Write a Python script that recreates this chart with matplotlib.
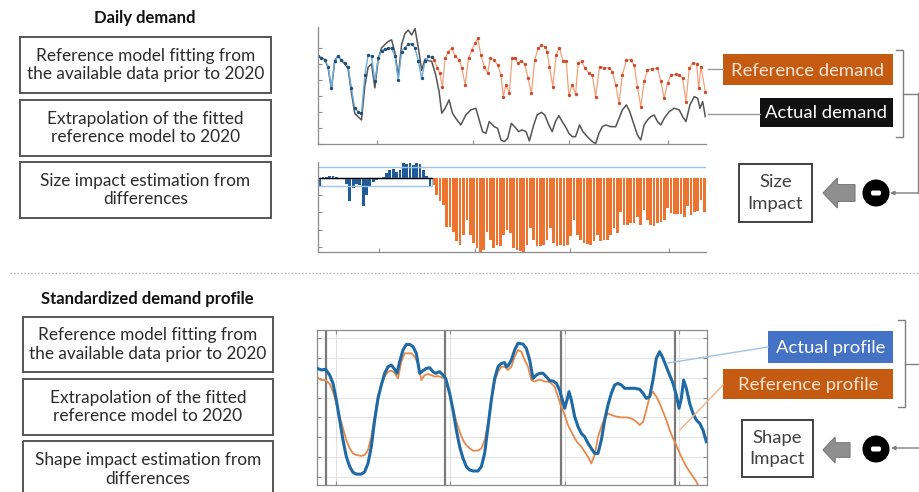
import matplotlib
matplotlib.use("Agg")
import matplotlib.pyplot as plt
from matplotlib.patches import Rectangle, Circle, Polygon, FancyBboxPatch

plt.rcParams['font.family'] = ['Lato', 'DejaVu Sans']

W, H = 920, 492

# ---- daily demand (arbitrary units, x = day index) ----
fit_days = list(range(35))
fit_vals = [5.52, 5.35, 5.27, 4.83, 3.48, 5.15, 5.46, 5.25, 5.08, 4.83, 3.48, 2.23,
            2.02, 1.92, 4.31, 5.56, 5.48, 3.90, 5.35, 5.81, 5.94, 5.98, 5.98, 5.46,
            4.00, 5.77, 6.02, 6.23, 6.27, 5.98, 5.15, 4.10, 5.15, 5.46, 5.40]

actual_days = [0, 1, 2, 3, 4, 5, 6, 7, 8, 9, 10, 11, 12, 13, 14, 15, 16, 17, 18, 19,
               20, 21, 22, 23, 24, 25, 26, 27, 28, 29, 30, 31, 32, 33, 34, 35.2, 36.2,
               37, 38, 39.2, 40.2, 41.2, 42.7, 44.2, 45.7, 47.2, 48.2, 49.2, 50.2, 51.2,
               52.7, 53.7, 54.7, 55.7, 56.7, 57.8, 58.8, 60, 61, 62.2, 63.2, 64.5, 65.5,
               66.8, 67.8, 69, 70, 71, 72, 73, 74, 75, 76, 77, 78.2, 79.2, 80.5, 82, 83,
               84, 85, 86, 87.5, 89, 90, 91, 92.2, 93.2, 94.5, 95.5, 96.5, 97.5, 98.5,
               99.5, 100.5, 101.5, 102.5, 103.5, 105, 106.5, 108, 109, 110, 111.2, 112.5,
               113.5, 114.2, 115, 115.8]
actual_vals = [5.45, 5.4, 5.25, 4.8, 3.4, 5.2, 5.5, 5.2, 5.0, 4.7, 3.2, 1.9, 1.7, 1.5,
               3.6, 4.8, 5.0, 3.5, 5.3, 6.0, 6.2, 6.4, 6.5, 5.7, 4.2, 6.2, 6.9, 7.1, 6.8,
               7.2, 6.0, 4.6, 5.3, 5.2, 5.15, 4.3, 3.27, 1.92, 2.23, 2.75, 1.92, 1.6, 1.19,
               1.81, 2.13, 2.23, 1.5, 0.77, 0.67, 1.4, 1.08, 0.98, 0.25, 0.15, 0.35, 1.29,
               1.08, 0.77, 0.88, 0.77, 0.19, 1.19, 1.81, 1.98, 1.81, 1.19, 0.77, 1.4, 1.77,
               1.4, 1.08, 0.67, 0.46, 0.46, 1.19, 0.77, 0.46, 0.15, 0.02, 0.67, 1.08, 1.19,
               1.08, 1.08, 1.6, 2.13, 2.44, 2.02, 1.19, 0.56, 0.25, 1.19, 1.5, 1.71, 1.81,
               1.4, 1.19, 1.6, 2.02, 2.23, 2.13, 1.71, 1.4, 2.44, 2.96, 2.85, 2.23, 2.65,
               1.71]

ref_days = [34, 34.7, 35.7, 36.4, 37.2, 38, 39, 40, 41, 42.2, 43, 44, 45, 46, 47, 47.7,
            48.7, 49.7, 50.7, 51.5, 52.7, 53.7, 54.7, 55.4, 56.2, 57.2, 58, 59, 59.8,
            60.8, 61.8, 62.8, 63.8, 64.8, 65.8, 66.8, 67.8, 68.5, 69.2, 70.2, 71.2, 72.2,
            73.2, 74.2, 75, 76, 77, 77.8, 78.8, 79.8, 81, 82, 83, 84.2, 85.5, 87, 88, 89,
            90, 91, 92.2, 93.5, 94.5, 95.5, 96.5, 97.5, 98.5, 100, 101.5, 102.5, 103.5,
            104.5, 105.5, 107, 108, 109, 110, 111, 112, 113.2, 113.8, 114.5, 115.8]
ref_vals = [5.40, 5.25, 4.73, 4.42, 3.58, 5.35, 5.77, 5.98, 5.46, 5.25, 4.73, 3.69, 5.35,
            5.88, 6.29, 6.60, 5.56, 4.83, 4.42, 5.35, 5.25, 4.94, 4.31, 2.96, 3.69, 3.17,
            5.35, 5.35, 5.04, 5.19, 4.98, 4.10, 3.17, 5.25, 5.98, 6.15, 6.08, 5.77, 4.83,
            3.58, 5.56, 6.02, 5.19, 5.15, 3.06, 3.69, 3.10, 5.04, 5.15, 4.73, 4.42, 4.31,
            2.96, 4.83, 4.77, 4.73, 4.52, 3.69, 2.54, 4.31, 5.25, 5.25, 4.94, 3.58, 2.33,
            3.90, 4.63, 4.69, 4.73, 3.90, 2.85, 3.81, 4.31, 4.35, 4.31, 4.10, 2.65, 4.73,
            5.04, 5.00, 3.48, 4.83, 3.27]

# differences actual - reference, one bar per day
diff_pre = [-0.46, 0.02, 0.05, 0.1, 0.08, 0.03, 0.0, 0.0, -0.38, -1.35, -0.62, -0.38,
            -0.42, -1.62, -1.0, -0.52, -0.23, -0.13, -0.05, 0.05, 0.25, 0.44, 0.5, 0.35,
            0.44, 0.83, 0.77, 0.83, 0.73, 0.83, 0.77, 0.44, 0.1, -0.46]
diff_post = [-0.42, -1.0, -1.38, -1.58, -2.83, -2.83, -3.12, -3.69, -3.88, -3.31, -2.44,
             -3.31, -3.79, -4.08, -4.37, -4.17, -3.12, -3.6, -4.08, -3.88, -3.98, -3.31,
             -3.02, -3.21, -4.08, -4.17, -4.27, -4.37, -3.88, -2.92, -3.6, -3.98, -3.98,
             -3.88, -3.6, -2.92, -3.77, -3.96, -3.87, -3.98, -3.87, -3.4, -2.44, -3.31,
             -3.6, -3.79, -3.85, -3.88, -3.69, -3.31, -3.69, -3.6, -3.6, -3.31, -2.92,
             -3.21, -1.96, -2.73, -2.73, -2.63, -2.63, -2.25, -2.73, -1.87, -2.44, -2.73,
             -2.77, -2.63, -2.54, -2.44, -1.77, -2.06, -2.12, -2.12, -2.12, -2.25, -1.67,
             -2.15, -1.96, -1.92, -1.29, -1.96]
diff_band = -0.46      # lower edge of the pre-2020 band
diff_upper = 0.62      # upper reference line

month_ticks = [17.7, 46.4, 74.9, 104.5]

# ---- standardized profile (x = time step, y = standardized demand) ----
prof_t = [2.2, 3.5, 4.8, 6, 7, 8, 9, 10, 11, 12, 13, 14, 15.5, 16.5, 17.5, 18.5, 19.5,
          20.5, 21.5, 22.5, 23.5, 24.5, 25.5, 26.2, 27, 28, 29, 30, 31, 32, 33, 34, 35,
          36, 37, 37.8, 39, 40, 40.8, 42, 43, 44, 45, 46, 47, 48, 49, 50.5, 51.5, 52.5,
          53.5, 54.5, 55.5, 56.5, 57.5, 58.5, 59, 59.5, 60.5, 61.5, 62.5, 64, 65, 66, 67,
          68, 69, 70, 71, 72, 73, 74, 75, 75.8, 76.5, 77.2, 77.8, 78.5, 79.5, 80.5, 81.5,
          82.5, 83.5, 84.5, 85.5, 86.5, 87.5, 88.5, 89.5, 90.5, 91.5, 92.5, 93.5, 94.5,
          96, 97.5, 99, 100, 101, 102, 103, 104, 105, 106, 107, 108, 109, 110, 110.8,
          111.5, 112.2, 113, 114, 115, 116, 117, 118, 119]
prof_actual = [5.48, 5.40, 5.43, 5.14, 4.72, 3.88, 2.87, 1.85, 1.01, 0.51, 0.22, 0.13,
               0.13, 0.25, 0.67, 1.52, 2.87, 3.96, 4.64, 5.23, 5.56, 5.65, 5.43, 5.23,
               5.82, 6.41, 6.69, 6.69, 6.58, 6.24, 5.23, 5.36, 5.48, 5.51, 5.31, 5.23,
               5.31, 5.14, 4.97, 4.22, 3.37, 2.36, 1.52, 0.93, 0.51, 0.34, 0.29, 0.29,
               0.51, 1.18, 2.53, 3.88, 4.97, 5.56, 5.73, 5.77, 5.56, 5.60, 5.90, 6.41,
               6.75, 6.71, 6.49, 5.90, 4.97, 5.14, 5.23, 5.23, 5.06, 4.86, 4.84, 4.72,
               4.38, 3.88, 3.46, 3.88, 4.30, 3.88, 3.04, 2.53, 2.19, 2.02, 1.69, 1.43,
               1.18, 1.18, 1.85, 2.87, 3.63, 4.22, 4.64, 4.72, 4.64, 4.47, 4.47, 4.47,
               4.42, 4.22, 3.96, 4.05, 4.89, 5.99, 6.32, 5.99, 5.56, 5.14, 4.72, 4.13,
               3.46, 3.96, 4.89, 4.47, 3.71, 3.20, 2.87, 2.70, 2.36, 1.77]

ref_t = [2.2, 3.5, 4.8, 6, 7, 8, 9, 10, 11, 12, 13, 14, 15.5, 16.5, 17.5, 18.5, 19.5,
         20.5, 21.5, 22.5, 23.5, 24.5, 25.5, 26.5, 27.5, 28.5, 29.5, 30.5, 31.5, 32.5,
         33.5, 34.5, 35.5, 36.5, 37.5, 38.5, 39.5, 40.5, 42, 43, 44, 45, 46, 47, 48, 49,
         50.5, 51.5, 52.5, 53.5, 54.5, 55.5, 56.5, 57.5, 58.5, 59.5, 60.5, 61.5, 62.5,
         63.5, 64.5, 65.5, 66.5, 67.5, 68.5, 69.5, 70.5, 71.5, 72.5, 73.5, 74.5, 75.5,
         76.5, 77.5, 78.5, 79.5, 80.5, 81.5, 82.5, 83.5, 84.5, 85.5, 86.5, 87.5, 88.5,
         89.5, 90.5, 92, 93.5, 95, 96.5, 98, 99, 100, 101, 102, 103, 104, 105, 106, 107,
         108, 109, 110, 111, 112, 113, 114, 115, 116, 116.5]
prof_ref = [5.03, 4.89, 4.89, 4.69, 4.30, 3.71, 3.04, 2.45, 1.85, 1.43, 1.18, 1.10, 1.05,
            1.10, 1.35, 2.02, 3.04, 4.05, 4.64, 5.06, 5.31, 5.36, 5.26, 4.97, 5.82, 6.24,
            6.24, 6.24, 6.07, 5.73, 4.89, 5.14, 5.19, 5.14, 5.06, 5.09, 5.03, 4.97, 4.13,
            3.46, 2.78, 2.28, 1.85, 1.60, 1.43, 1.32, 1.32, 1.43, 1.85, 2.70, 3.88, 4.81,
            5.31, 5.56, 5.56, 5.40, 5.56, 6.07, 6.41, 6.32, 5.90, 5.56, 4.89, 4.81, 4.89,
            4.89, 4.81, 4.81, 4.72, 4.55, 4.05, 3.54, 3.12, 2.61, 2.28, 1.94, 1.69, 1.52,
            1.26, 1.01, 0.67, 1.10, 2.02, 2.53, 2.95, 3.20, 3.12, 3.04, 3.00, 3.00, 2.95,
            2.78, 2.61, 2.78, 3.37, 4.05, 4.30, 4.05, 3.71, 3.29, 2.87, 2.36, 1.94, 1.60,
            1.18, 0.84, 0.51, 0.25, 0.00, -0.25, -0.42]
day_breaks = [5.0, 40.5, 75.5, 109.5]
hour_grid = [8.0, 42.0, 76.5, 110.8]


def rect(x0, y0, x1, y1):
    # pixel box (top-left origin) -> figure fraction
    return [x0 / W, 1 - y1 / H, (x1 - x0) / W, (y1 - y0) / H]


fig = plt.figure(figsize=(W / 100, H / 100), dpi=100)
fig.patch.set_facecolor('white')

AX_GREY = '#8c8c8c'


def style(ax, sides=('left', 'bottom')):
    for s in ['left', 'right', 'top', 'bottom']:
        ax.spines[s].set_visible(s in sides)
        ax.spines[s].set_color(AX_GREY)
        ax.spines[s].set_linewidth(0.9)
    ax.tick_params(direction='in', length=3, color=AX_GREY, labelleft=False,
                   labelbottom=False, left='left' in sides, bottom='bottom' in sides,
                   right='right' in sides, top='top' in sides)
    ax.set_facecolor('none')


# top: daily demand
ax1 = fig.add_axes(rect(318, 27, 706, 144))
ax1.plot(actual_days, actual_vals, color='#555555', lw=1.1)
ax1.plot(ref_days, ref_vals, color='#f2a27a', lw=0.9, marker='o', ms=1.4,
         mfc='#cf4a2a', mec='#cf4a2a')
ax1.plot(fit_days, fit_vals, color='#6aaee0', lw=1.0, marker='o', ms=1.4,
         mfc='#1f4e79', mec='#1f4e79')
ax1.set_xlim(0, 116)
ax1.set_ylim(0, 7.3)
ax1.set_xticks(month_ticks)
ax1.set_yticks(range(7))
style(ax1)

# middle: differences
ax2 = fig.add_axes(rect(318, 162, 706, 252))
ax2.bar(range(len(diff_pre)), diff_pre, width=0.85, color='#1f5b99')
ax2.bar(range(len(diff_pre), len(diff_pre) + len(diff_post)), diff_post, width=0.8,
        color='#ec7430')
ax2.axhline(diff_upper, color='#9dc3e6', lw=1.0)
ax2.add_patch(Rectangle((-0.5, diff_band), len(diff_pre), -diff_band, fill=False,
                        ec='#9dc3e6', lw=1.0))
ax2.plot([-0.5, len(diff_pre) - 0.5], [0, 0], color='black', lw=1.0)
ax2.set_xlim(-0.5, 115.5)
ax2.set_ylim(-4.3, 0.9)
ax2.set_xticks(month_ticks)
ax2.set_yticks([0, -1, -2, -3, -4])
style(ax2)

# bottom: standardized profile
ax3 = fig.add_axes(rect(317, 330, 707, 485))
for g in range(8):
    ax3.axhline(g, color='#e6e6e6', lw=0.8, zorder=0)
for g in hour_grid:
    ax3.axvline(g, color='#e0e0e0', lw=0.8, zorder=0)
for b in day_breaks:
    ax3.axvline(b, color='#7a7a7a', lw=1.6, zorder=1)
ax3.plot(ref_t, prof_ref, color='#e8884a', lw=1.3, zorder=2)
ax3.plot(prof_t, prof_actual, color='#1f6aa5', lw=2.2, zorder=3)
ax3.set_xlim(2.2, 119.2)
ax3.set_ylim(-0.42, 7.42)
ax3.set_xticks(hour_grid)
ax3.set_yticks(range(8))
style(ax3, sides=('left', 'bottom', 'right', 'top'))

# overlay for the diagram parts, in pixel units
ov = fig.add_axes([0, 0, 1, 1], zorder=5)
ov.set_xlim(0, W)
ov.set_ylim(H, 0)
ov.axis('off')
ov.patch.set_alpha(0)

TXT = '#2b2b2b'
FS = 12.4


def step_box(x0, y0, x1, y1, text):
    ov.add_patch(Rectangle((x0, y0), x1 - x0, y1 - y0, fill=False, ec='#555555', lw=1.4))
    ov.text((x0 + x1) / 2, (y0 + y1) / 2, text, ha='center', va='center', fontsize=FS,
            color=TXT, linespacing=1.2)


ov.text(145, 18, 'Daily demand', ha='center', va='center', fontsize=12,
        fontweight='bold', color='#111111')
step_box(20, 37, 271, 93, 'Reference model fitting from\nthe available data prior to 2020')
step_box(20, 100, 271, 156, 'Extrapolation of the fitted\nreference model to 2020')
step_box(20, 162, 271, 218, 'Size impact estimation from\ndifferences')

ov.plot([10, 920], [273, 273], color='#b0b0b0', lw=1.0, ls=(0, (1, 1.5)))

ov.text(147, 299, 'Standardized demand profile', ha='center', va='center',
        fontsize=12, fontweight='bold', color='#111111')
step_box(23, 317, 273, 372, 'Reference model fitting from\nthe available data prior to 2020')
step_box(23, 379, 273, 435, 'Extrapolation of the fitted\nreference model to 2020')
step_box(23, 441, 273, 498, 'Shape impact estimation from\ndifferences')


def label(x0, y0, x1, y1, text, fc, tc):
    ov.add_patch(Rectangle((x0, y0), x1 - x0, y1 - y0, fc=fc, ec='none'))
    ov.text((x0 + x1) / 2, (y0 + y1) / 2 + 1, text, ha='center', va='center',
            fontsize=13.3, color=tc)


# connectors from the charts to their labels
ov.plot([708, 723], [69, 69], color='#9a9a9a', lw=1.0)
ov.plot([708, 760], [114, 114], color='#9a9a9a', lw=1.0)
ov.plot([668, 768], [363, 347], color='#9dc3e6', lw=1.0)
ov.plot([680, 723], [430, 385], color='#f4b183', lw=1.0)

label(723, 54, 893, 85, 'Reference demand', '#c55a11', '#fbe5d6')
label(760, 98, 893, 127, 'Actual demand', '#111111', 'white')
label(768, 331, 893, 363, 'Actual profile', '#4472c4', 'white')
label(723, 369, 893, 399, 'Reference profile', '#c55a11', '#fbe5d6')


def bracket(x, y0, y1, tip):
    ov.plot([x - 7, x, x, x - 7], [y0, y0, y1, y1], color='#7f7f7f', lw=1.0)
    ov.plot([x, tip], [(y0 + y1) / 2, (y0 + y1) / 2], color='#7f7f7f', lw=1.0)


def minus_node(cx, cy):
    ov.add_patch(Circle((cx, cy), 13.5, fc='black', ec='none'))
    ov.add_patch(FancyBboxPatch((cx - 5, cy - 2.5), 10, 5,
                                boxstyle='round,pad=0,rounding_size=2',
                                fc='white', ec='none'))


def grey_arrow(x0, x1, y0, y1):
    cy = (y0 + y1) / 2
    hx = x0 + (x1 - x0) * 0.45
    sh = (y1 - y0) * 0.28
    pts = [(x0, cy), (hx, y0), (hx, cy - sh), (x1, cy - sh), (x1, cy + sh),
           (hx, cy + sh), (hx, y1)]
    ov.add_patch(Polygon(pts, closed=True, fc='#8f8f8f', ec='#7a7a7a', lw=0.8))


def impact_box(x0, y0, x1, y1, text):
    ov.add_patch(Rectangle((x0, y0), x1 - x0, y1 - y0, fc='white', ec='#333333', lw=1.3))
    ov.text((x0 + x1) / 2, (y0 + y1) / 2, text, ha='center', va='center', fontsize=13.3,
            color='#404040', linespacing=1.4)


# size impact branch
bracket(903, 50, 137, 918)
ov.plot([918, 918], [93, 193], color='#7f7f7f', lw=1.0)
ov.annotate('', xy=(890, 193), xytext=(918, 193),
            arrowprops=dict(arrowstyle='-|>', color='#7f7f7f', lw=1.0,
                            mutation_scale=6, shrinkA=0, shrinkB=0))
minus_node(876, 193)
grey_arrow(823, 855, 178, 208)
impact_box(739, 164, 812, 222, 'Size\nImpact')

# shape impact branch
bracket(905, 320, 407, 920)
ov.annotate('', xy=(891, 448), xytext=(920, 448),
            arrowprops=dict(arrowstyle='-|>', color='#7f7f7f', lw=1.0,
                            mutation_scale=6, shrinkA=0, shrinkB=0))
minus_node(876, 449)
grey_arrow(823, 850, 437, 463)
impact_box(742, 420, 813, 477, 'Shape\nImpact')

fig.savefig('out.png', dpi=100)
